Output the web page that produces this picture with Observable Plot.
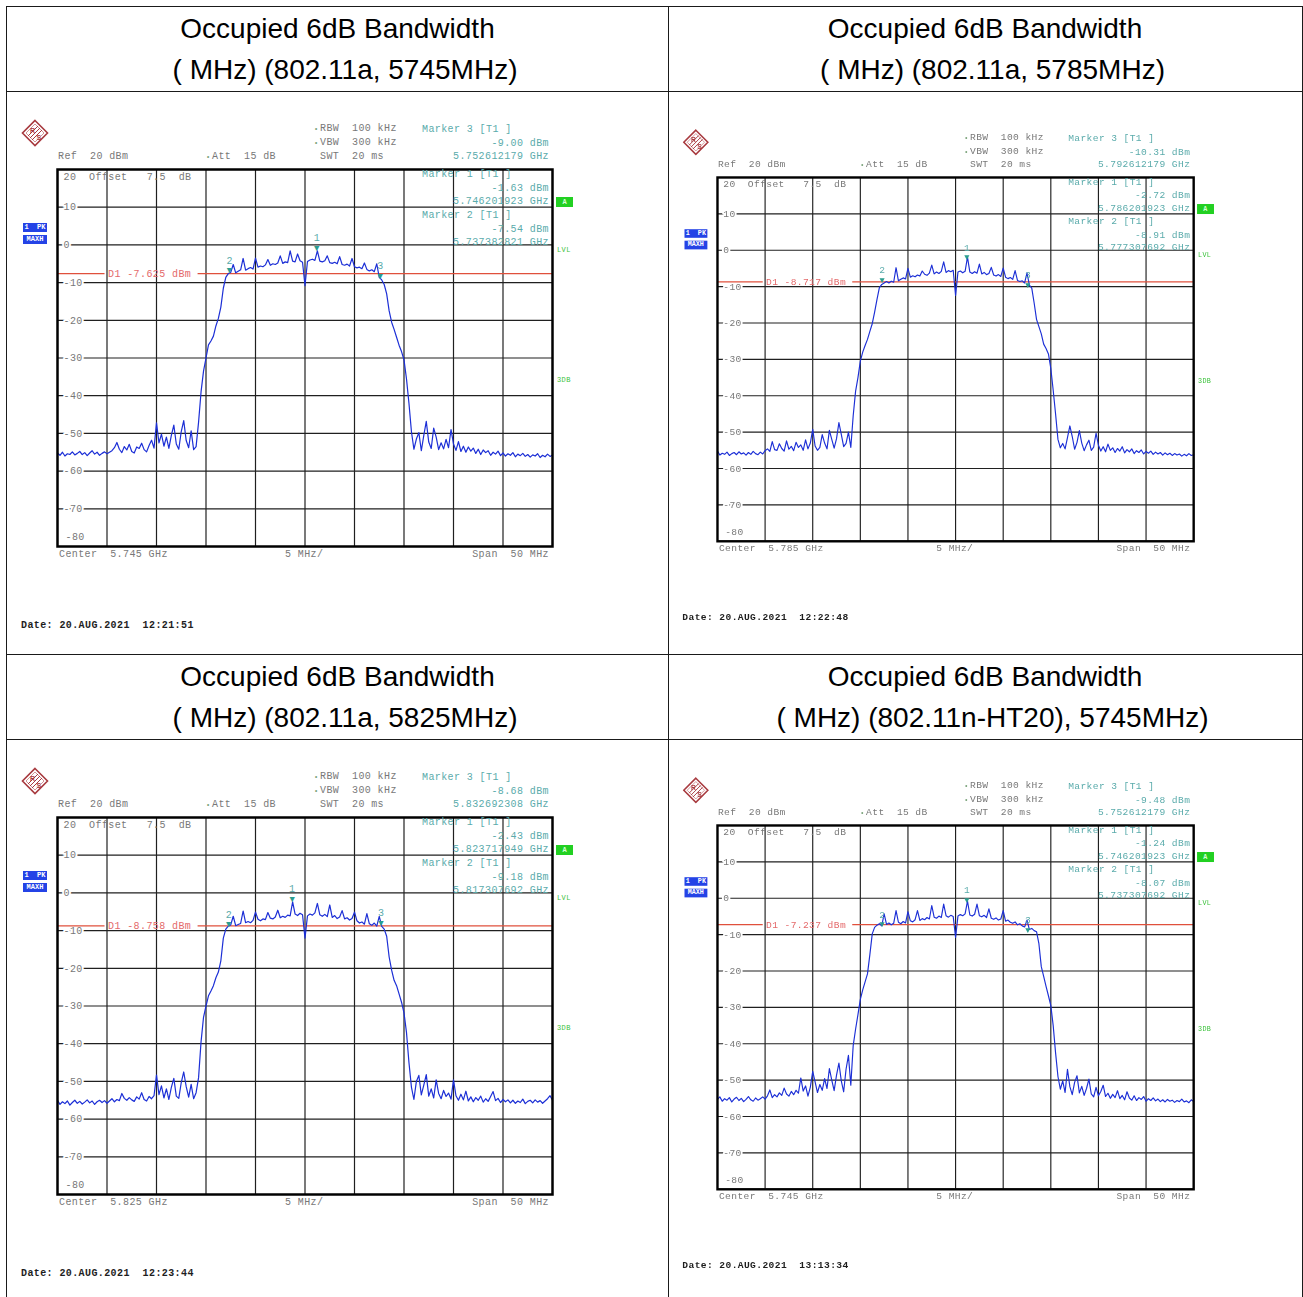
<!DOCTYPE html>
<html><head><meta charset="utf-8">
<script src="https://cdn.jsdelivr.net/npm/d3@7"></script>
<script src="https://cdn.jsdelivr.net/npm/@observablehq/plot@0.6"></script>
<style>
body{margin:0;background:#fff;}
#page{position:relative;width:1303px;height:1297px;overflow:hidden;background:#fff;font-family:"Liberation Sans",Arial,sans-serif;}
.hl{position:absolute;height:1px;background:#1a1a1a;}
.vl{position:absolute;width:1px;background:#1a1a1a;}
.title{position:absolute;font-size:28px;color:#000;text-align:center;white-space:pre;line-height:32px;}
.panel{position:absolute;transform-origin:0 0;width:501px;height:383px;}
.panel svg.plotsvg{position:absolute;left:-3px;top:-3px;}
.t{position:absolute;font-family:"Liberation Mono","DejaVu Sans Mono",monospace;font-size:10px;letter-spacing:0.4px;line-height:12px;white-space:pre;color:#787878;}
.box{position:absolute;font-family:"Liberation Mono",monospace;font-size:7px;font-weight:bold;color:#fff;line-height:9px;white-space:pre;text-align:center;}
</style></head><body><div id="page"></div><script>
// ---------- data ----------
const titleLine1 = ["Occupied 6dB Bandwidth","Occupied 6dB Bandwidth","Occupied 6dB Bandwidth","Occupied 6dB Bandwidth"];
const titleLine2 = ["( MHz) (802.11a, 5745MHz)","( MHz) (802.11a, 5785MHz)","( MHz) (802.11a, 5825MHz)","( MHz) (802.11n-HT20), 5745MHz)"];
const centerLabels = ["5.745 GHz","5.785 GHz","5.825 GHz","5.745 GHz"];
const dateLabels = ["20.AUG.2021  12:21:51","20.AUG.2021  12:22:48","20.AUG.2021  12:23:44","20.AUG.2021  13:13:34"];
const d1Levels = ["-7.625","-8.717","-8.758","-7.237"];
const yTicks = [10,0,-10,-20,-30,-40,-50,-60,-70];
const xGrid = [-20,-15,-10,-5,0,5,10,15,20];
// markers: offset from centre (MHz), level (dBm), readout
const markers5745a = [
  {n:3, f:7.612, v:-9.00, freq:"5.752612179 GHz"},
  {n:1, f:1.202, v:-1.63, freq:"5.746201923 GHz"},
  {n:2, f:-7.617, v:-7.54, freq:"5.737382821 GHz"}];
const markers5785a = [
  {n:3, f:7.612, v:-10.31, freq:"5.792612179 GHz"},
  {n:1, f:1.202, v:-2.72, freq:"5.786201923 GHz"},
  {n:2, f:-7.692, v:-8.91, freq:"5.777307692 GHz"}];
const markers5825a = [
  {n:3, f:7.692, v:-8.68, freq:"5.832692308 GHz"},
  {n:1, f:-1.282, v:-2.43, freq:"5.823717949 GHz"},
  {n:2, f:-7.692, v:-9.18, freq:"5.817307692 GHz"}];
const markers5745n = [
  {n:3, f:7.612, v:-9.48, freq:"5.752612179 GHz"},
  {n:1, f:1.202, v:-1.24, freq:"5.746201923 GHz"},
  {n:2, f:-7.692, v:-8.07, freq:"5.737307692 GHz"}];
// traces: dBm read every 0.25 MHz from -25 to +25 MHz
const trace5745a = [
-55.2,-55.8,-55.0,-56.0,-55.4,-55.6,-54.9,-55.7,-55.3,-54.8,-55.6,-55.1,-55.9,-55.2,-54.6,-55.5,-55.0,-55.8,-55.3,-54.9,-55.4,
-55.0,-54.6,-53.8,-52.4,-54.2,-55.1,-53.5,-54.4,-52.9,-54.8,-55.2,-53.6,-54.0,-52.6,-54.3,-54.9,-53.2,-51.8,-53.9,
-47.2,-52.5,-50.2,-53.4,-51.0,-54.0,-50.5,-47.8,-52.8,-54.2,-49.5,-46.6,-51.9,-53.8,-49.3,-54.3,-53.5,
-47.0,-39.0,-33.5,-30.0,-26.5,-25.5,-24.2,-21.5,-19.5,-16.5,-11.5,-8.6,
-7.6,-7.3,-5.2,-7.4,-7.0,-6.6,-3.6,-6.7,-6.3,-6.0,-6.4,-3.5,-5.9,-5.6,-5.8,-5.3,-3.9,-5.4,-5.0,-5.2,-4.8,-2.9,-4.9,-4.5,-4.7,-1.6,-4.3,-4.5,-2.4,-4.2,-4.6,
-10.8,
-4.4,-4.0,-3.8,-4.1,-1.6,-4.3,-4.5,-4.2,-2.9,-4.7,-4.9,-4.6,-5.0,-3.1,-5.2,-5.4,-5.1,-5.6,-3.6,-5.8,-6.1,-5.9,-6.3,-4.8,-6.5,-6.9,-6.6,-7.1,-5.0,-8.6,-9.3,
-10.5,-13.0,-17.5,-20.5,-22.4,-24.5,-26.6,-28.3,-30.5,-35.5,-42.0,-49.5,-54.2,
-51.5,-49.8,-54.6,-50.5,-46.8,-52.3,-54.0,-48.6,-51.0,-54.3,-52.5,-54.1,-51.6,-53.8,-49.0,-52.8,-54.5,-52.2,-54.8,-53.4,
-55.0,-53.6,-54.7,-53.9,-55.3,-54.2,-55.6,-54.4,-55.1,-54.6,-55.8,-55.0,-55.5,-54.7,-55.9,-55.2,-56.0,-55.4,-55.8,-55.1,
-56.2,-55.5,-55.9,-55.3,-56.1,-55.6,-56.3,-55.7,-56.0,-55.4,-56.4,-55.8,-56.2,-55.5,-56.1,-55.7];
const trace5785a = [
-55.2,-56.3,-55.8,-56.1,-55.5,-56.4,-55.9,-55.6,-56.2,-55.4,-56.0,-55.7,-56.3,-55.6,-56.1,-55.3,-55.9,-56.2,-55.5,-56.0,-55.1,
-54.6,-55.3,-52.6,-54.8,-55.0,-53.2,-54.5,-55.2,-52.4,-54.7,-53.9,-55.1,-52.8,-54.2,-53.5,-55.0,-52.1,-54.6,-53.0,
-49.2,-53.8,-55.0,-54.2,-50.7,-53.0,-54.6,-49.5,-52.0,-54.4,-51.8,-47.4,-50.6,-54.0,-53.1,-50.0,-54.2,
-45.5,-38.8,-35.0,-30.5,-28.0,-26.2,-24.5,-22.3,-20.2,-17.0,-13.5,-10.3,-9.4,-9.0,
-8.6,-9.0,-8.5,-8.8,-4.8,-8.4,-8.0,-7.6,-7.9,-5.0,-7.4,-7.0,-7.3,-6.8,-7.1,-5.7,-6.6,-6.9,-6.3,-4.1,-6.5,-6.0,-6.4,-5.8,-3.2,-6.1,-5.6,-5.9,-5.5,
-12.4,
-6.0,-5.7,-6.2,-5.8,-1.9,-6.0,-6.4,-5.9,-6.3,-3.8,-6.5,-6.1,-6.7,-6.4,-4.7,-6.8,-7.1,-6.7,-7.2,-4.9,-7.4,-7.8,-7.5,-8.0,-5.6,-8.3,-8.6,-8.4,-9.0,-6.2,-9.6,
-10.4,-14.5,-19.0,-21.0,-23.0,-25.8,-27.0,-28.5,-32.5,-38.5,-45.0,-52.0,-54.3,
-53.1,-54.6,-51.5,-48.3,-51.2,-54.7,-52.8,-49.6,-53.0,-55.1,-53.5,-52.2,-55.0,-54.1,-50.3,-53.6,-55.2,-54.0,-55.4,-53.3,
-55.0,-54.3,-55.6,-54.5,-55.2,-54.0,-55.7,-54.8,-55.4,-54.6,-55.9,-55.1,-55.6,-54.9,-56.0,-55.3,-55.8,-55.2,-56.1,-55.5,
-56.0,-55.6,-56.3,-55.7,-56.2,-55.8,-56.4,-55.9,-56.3,-56.0,-56.6,-56.1,-56.5,-55.9,-56.4,-56.2];
const trace5825a = [
-55.0,-56.1,-55.4,-55.9,-55.2,-56.3,-55.6,-55.0,-55.8,-55.3,-56.0,-55.5,-54.9,-55.7,-55.2,-56.1,-55.4,-55.0,-55.6,-55.1,-55.8,
-55.2,-54.6,-55.4,-54.8,-55.1,-53.2,-54.5,-55.0,-54.3,-54.9,-55.3,-54.1,-54.7,-53.0,-54.8,-55.2,-54.0,-54.6,-53.8,
-48.3,-53.5,-51.2,-54.4,-52.0,-54.8,-51.6,-49.2,-53.9,-54.5,-50.3,-47.5,-51.4,-54.2,-50.8,-54.6,-53.0,
-49.0,-39.5,-33.0,-30.0,-27.3,-26.0,-24.6,-22.5,-21.0,-18.0,-12.0,-9.6,-8.8,-8.5,
-6.2,-8.7,-8.4,-8.1,-4.8,-7.9,-7.6,-7.9,-7.3,-5.1,-7.0,-7.4,-6.9,-7.1,-5.2,-6.7,-6.9,-6.4,-4.6,-6.6,-6.2,-6.5,-5.9,-6.1,-2.4,-5.6,-6.0,-5.4,-5.8,
-12.0,
-6.1,-5.6,-5.9,-5.3,-2.8,-5.8,-6.2,-5.7,-6.3,-3.2,-6.5,-6.0,-6.8,-6.4,-4.7,-6.9,-6.6,-7.2,-6.8,-5.1,-7.4,-8.0,-7.7,-8.3,-5.5,-8.2,-8.6,-8.0,-8.8,-6.2,-8.9,
-9.6,-11.5,-17.0,-20.5,-23.2,-24.6,-26.8,-29.0,-31.8,-37.0,-45.0,-51.5,-54.8,
-50.0,-48.4,-53.6,-51.0,-48.2,-53.9,-52.0,-54.4,-49.6,-53.2,-54.6,-52.4,-54.0,-53.1,-54.7,-49.6,-53.8,-55.0,-53.4,-54.9,
-52.6,-55.2,-54.1,-55.4,-54.3,-55.0,-53.9,-55.5,-54.6,-55.3,-54.0,-52.7,-55.1,-54.5,-55.6,-54.8,-55.4,-54.9,-55.7,-55.0,
-55.8,-55.2,-55.6,-54.7,-55.9,-55.3,-55.0,-55.7,-54.9,-55.5,-55.1,-55.8,-55.2,-54.6,-53.8,-55.0];
const trace5745n = [
-55.3,-54.6,-55.8,-55.1,-55.5,-54.8,-56.0,-55.2,-54.7,-55.6,-55.0,-55.9,-55.3,-54.5,-55.4,-55.8,-54.9,-55.5,-55.1,-54.6,-55.2,
-54.3,-52.7,-54.8,-54.0,-54.6,-53.5,-54.2,-52.2,-53.8,-54.4,-53.1,-54.0,-52.8,-53.6,-49.4,-53.0,-51.6,-54.4,-51.9,
-47.6,-50.5,-53.4,-51.2,-52.8,-49.6,-52.3,-46.8,-50.0,-52.9,-48.6,-45.3,-50.2,-53.2,-47.0,-43.2,-51.4,
-40.5,-36.0,-32.0,-27.8,-25.2,-23.0,-20.8,-15.5,-9.8,-8.0,
-7.4,-7.0,-7.6,-4.3,-7.2,-6.8,-7.3,-6.9,-3.4,-6.6,-7.0,-6.4,-6.8,-3.7,-6.2,-6.5,-5.9,-3.4,-6.1,-5.6,-5.9,-5.3,-5.7,-2.0,-5.2,-5.5,-4.9,-5.3,-1.6,-4.8,-5.2,-4.7,-5.0,
-10.8,
-4.9,-4.5,-4.8,-4.3,-0.8,-4.6,-4.9,-4.4,-1.6,-4.8,-5.1,-4.7,-5.3,-2.9,-5.5,-5.8,-5.4,-6.0,-5.7,-3.4,-6.3,-6.0,-6.6,-6.9,-6.5,-7.3,-7.0,-7.6,-7.9,-6.0,-8.6,-8.3,-8.9,-9.2,
-12.5,-18.8,-21.5,-24.2,-26.8,-29.5,-35.0,-42.5,-49.0,-52.5,
-50.2,-53.4,-47.0,-51.8,-54.0,-50.6,-48.8,-53.5,-51.7,-54.2,-52.3,-49.7,-53.8,-54.6,-52.0,-54.3,-53.1,-51.4,-54.5,-53.6,
-55.0,-53.9,-54.8,-52.9,-55.1,-54.2,-55.4,-53.2,-54.9,-55.5,-54.3,-55.6,-54.8,-55.3,-54.5,-55.8,-55.1,-55.6,-54.9,-55.7,
-55.2,-55.9,-55.4,-56.0,-55.3,-55.8,-55.5,-56.1,-55.6,-55.9,-55.2,-56.0,-55.7,-56.2,-55.4,-55.9];
const traces = [trace5745a, trace5785a, trace5825a, trace5745n];
const markerSets = [markers5745a, markers5785a, markers5825a, markers5745n];

// ---------- layout ----------
const page = document.getElementById("page");
function div(cls, css, text) {
  const el = document.createElement("div");
  el.className = cls;
  Object.assign(el.style, css);
  if (text != null) el.textContent = text;
  return el;
}
// table rules
[6, 91, 654, 739].forEach(y => page.appendChild(div("hl", {left:"6px", top:y+"px", width:"1297px"})));
[6, 668, 1302].forEach(x => page.appendChild(div("vl", {left:x+"px", top:"6px", height:"1291px"})));

const cells = [
  {left:7, width:661, row:0}, {left:668, width:634, row:0},
  {left:7, width:661, row:1}, {left:668, width:634, row:1}];
cells.forEach((c, i) => {
  const top = c.row * 648;
  page.appendChild(div("title", {left:c.left+"px", width:c.width+"px", top:(top+12.8)+"px"}, titleLine1[i]));
  page.appendChild(div("title", {left:(c.left+7.5)+"px", width:c.width+"px", top:(top+54)+"px"}, titleLine2[i]));
});

function txt(parent, x, y, s, opt = {}) {
  const el = div("t", {left:x+"px", top:(y-6)+"px"}, s);
  if (opt.end) el.style.transform = "translateX(-100%)";
  if (opt.color) el.style.color = opt.color;
  if (opt.weight) el.style.fontWeight = opt.weight;
  if (opt.size) el.style.fontSize = opt.size + "px";
  parent.appendChild(el);
  return el;
}

function logo(parent, cx, cy) {
  const ns = "http://www.w3.org/2000/svg";
  const svg = document.createElementNS(ns, "svg");
  svg.setAttribute("width", 28); svg.setAttribute("height", 28);
  svg.style.position = "absolute"; svg.style.left = (cx-14)+"px"; svg.style.top = (cy-14)+"px";
  svg.innerHTML = `<polygon points="14,1.5 26.5,14 14,26.5 1.5,14" fill="#fff" stroke="#a83a3f" stroke-width="1.6"/>
    <polygon points="14,5 23,14 14,23 5,14" fill="none" stroke="#c87a7e" stroke-width="0.8"/>
    <line x1="19" y1="9" x2="9" y2="19" stroke="#a83a3f" stroke-width="1"/>
    <line x1="21" y1="11" x2="11" y2="21" stroke="#a83a3f" stroke-width="1"/>
    <line x1="17" y1="7" x2="7" y2="17" stroke="#a83a3f" stroke-width="1"/>
    <text x="9" y="14" font-family="Liberation Sans" font-size="7" font-weight="bold" fill="#a83a3f">R</text>
    <text x="15.5" y="21" font-family="Liberation Sans" font-size="7" font-weight="bold" fill="#a83a3f">S</text>`;
  parent.appendChild(svg);
}

const panelOrigins = [
  {x:57, y:169, sx:1, sy:1}, {x:717, y:177, sx:0.962, sy:0.965},
  {x:57, y:817, sx:1, sy:1}, {x:717, y:825, sx:0.962, sy:0.965}];
const gray = "#787878", teal = "#5aabab", lvlGreen = "#3cc23c";

function drawPanel(i) {
  const o = panelOrigins[i];
  const p = div("panel", {left:o.x+"px", top:o.y+"px", transform:`scale(${o.sx},${o.sy})`});
  page.appendChild(p);
  const trace = traces[i];
  const data = trace.map((v, k) => ({f: -25 + k * 50 / (trace.length - 1), v}));
  const markers = markerSets[i];
  const d1 = +d1Levels[i];
  const d1Segments = [{x1:-25, x2:-20.2, y:d1}, {x1:-10.8, x2:25, y:d1}];
  const W = 495, H = 377, m = 3;
  const chart = Plot.plot({
    width: W + 2*m, height: H + 2*m, margin: m,
    x: {domain: [-25, 25], axis: null},
    y: {domain: [-80, 20], axis: null},
    style: {fontFamily: "Liberation Mono, DejaVu Sans Mono, monospace", fontSize: "10px", letterSpacing: "0.4px", background: "transparent", overflow: "visible", maxWidth: "none"},
    marks: [
      Plot.ruleX(xGrid, {stroke: "#202020", strokeWidth: 1.2}),
      Plot.ruleY(yTicks, {stroke: "#202020", strokeWidth: 1.2}),
      Plot.text(yTicks, {x: -25, y: d => d, text: d => String(d), dx: 6, textAnchor: "start", fill: gray, stroke: "white", strokeWidth: 4}),
      Plot.text([-80], {x: -25, y: d => d, text: d => String(d), dx: 8, dy: -10, textAnchor: "start", fill: gray}),
      Plot.text([20], {x: -25, y: d => d, text: d => d + "  Offset   7.5  dB", dx: 6, dy: 7, textAnchor: "start", fill: gray}),
      Plot.ruleY(d1Segments, {y: "y", x1: "x1", x2: "x2", stroke: "#e0503c", strokeWidth: 1.3}),
      Plot.text([d1], {x: -20, y: d => d, text: () => `D1 ${d1Levels[i]} dBm`, dx: 1, textAnchor: "start", fill: "#e4696a"}),
      Plot.line(data, {x: "f", y: "v", stroke: "#1c2fd6", strokeWidth: 1.2}),
      Plot.text(markers, {x: "f", y: "v", text: () => "▼", dy: -3, fontSize: 9, fill: "#2a9d8f"}),
      Plot.text(markers, {x: "f", y: "v", text: d => String(d.n), dy: -13, fill: teal}),
      Plot.frame({stroke: "#000", strokeWidth: 2.5})
    ]
  });
  chart.classList.add("plotsvg");
  p.appendChild(chart);

  // header annotations
  logo(p, -22, -36);
  txt(p, 257, -40, "•", {color: "#7aa37a", size: 7});
  txt(p, 263, -40, "RBW  100 kHz");
  txt(p, 257, -26, "•", {color: "#7aa37a", size: 7});
  txt(p, 263, -26, "VBW  300 kHz");
  txt(p, 263, -12, "SWT  20 ms");
  txt(p, 1, -12, "Ref  20 dBm");
  txt(p, 149, -12, "•", {color: "#7aa37a", size: 7});
  txt(p, 155, -12, "Att  15 dB");
  const rowY = [-39, 6, 47];
  markers.forEach((mk, k) => {
    txt(p, 365, rowY[k], `Marker ${mk.n} [T1 ]`, {color: teal});
    txt(p, 492, rowY[k] + 13.5, `${mk.v.toFixed(2)} dBm`, {color: teal, end: true});
    txt(p, 492, rowY[k] + 26.5, mk.freq, {color: teal, end: true});
  });
  p.appendChild(div("box", {left:"499px", top:"28px", width:"17px", height:"10px", background:"#22d022", lineHeight:"10px", color:"#d8ffd8"}, "A"));
  txt(p, 500, 81, "LVL", {color: lvlGreen, size: 7});
  txt(p, 500, 211, "3DB", {color: lvlGreen, size: 7});
  p.appendChild(div("box", {left:"-34px", top:"54px", width:"24px", height:"9px", background:"#2443e6"}, "1  PK"));
  p.appendChild(div("box", {left:"-34px", top:"66px", width:"24px", height:"9px", background:"#2443e6"}, "MAXH"));
  txt(p, 2, 386, `Center  ${centerLabels[i]}`);
  txt(p, 228, 386, "5 MHz/");
  txt(p, 492, 386, "Span  50 MHz", {end: true});
  txt(p, -36, 457, `Date: ${dateLabels[i]}`, {color: "#1e1e1e", weight: "bold"});
}
[0,1,2,3].forEach(drawPanel);
</script></body></html>
